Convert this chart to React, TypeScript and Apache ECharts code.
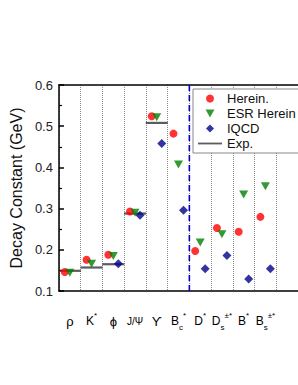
import React, { useEffect, useRef } from "react";
import * as echarts from "echarts";

const categories = ["ρ", "K*", "ϕ", "J/Ψ", "ϒ", "Bc*", "D*", "Ds±*", "B*", "Bs±*", ""];
const categoryRich = [
  "{g|ρ}",
  "{m|K}{sup|*}",
  "{g|ϕ}",
  "{s|J/Ψ}",
  "{g|ϒ}",
  "{m|B}{sub|c}{sup|*}",
  "{m|D}{sup|*}",
  "{m|D}{sub|s}{sup|±*}",
  "{m|B}{sup|*}",
  "{m|B}{sub|s}{sup|±*}",
  "",
];
const herein = [0.146, 0.176, 0.188, 0.293, 0.524, 0.482, 0.197, 0.253, 0.244, 0.28];
const esrHerein = [0.144, 0.166, 0.185, 0.29, 0.522, 0.407, 0.218, 0.238, 0.334, 0.354];
const iqcd = [null, null, 0.166, 0.284, 0.458, 0.296, 0.154, 0.186, 0.129, 0.154];
const expValues = [0.149, 0.157, 0.165, 0.288, 0.508, null, null, null, null, null];
const separatorAt = 6;
const yTicks = { min: 0.1, max: 0.6, interval: 0.1 };

const FONT = "Liberation Sans, Arial, sans-serif";

export default function App() {
  const ref = useRef<HTMLDivElement>(null);
  useEffect(() => {
    if (!ref.current) return;
    const chart = echarts.init(ref.current, null, { renderer: "svg" });
    const pair = (arr: (number | null)[]) =>
      arr.map((v, i) => (v == null ? null : [i, v])).filter((d) => d != null);
    const gridW = 23.4 * categories.length;
    chart.setOption({
      animation: false,
      backgroundColor: "#fff",
      textStyle: { fontFamily: FONT },
      grid: { left: 50, top: 85, width: gridW, height: 206 },
      legend: {
        orient: "vertical",
        left: 193,
        top: 89,
        padding: [3, 5, 3, 5],
        itemGap: 2,
        itemWidth: 24,
        itemHeight: 8,
        itemTextGap: 7,
        borderColor: "#888",
        borderWidth: 1,
        backgroundColor: "#fff",
        textStyle: { fontSize: 13, color: "#111", fontFamily: FONT },
        data: [
          { name: "Herein.", icon: "circle" },
          { name: "ESR Herein", icon: "path://M0,0L10,0L5,9Z" },
          { name: "IQCD", icon: "path://M5,0L10,5L5,10L0,5Z" },
          { name: "Exp.", icon: "path://M0,0H24V1.8H0Z" },
        ],
      },
      xAxis: [
        {
          type: "category",
          data: categories,
          boundaryGap: true,
          position: "bottom",
          axisLine: { lineStyle: { color: "#000", width: 1.5 } },
          axisTick: { inside: true, length: 5, interval: 0, lineStyle: { color: "#000", width: 1.5 } },
          splitLine: { show: true, interval: 0, lineStyle: { color: "#888", type: "dotted", width: 1 } },
          axisLabel: {
            interval: 0,
            margin: 20,
            formatter: (_v: string, i: number) => categoryRich[i] || "",
            rich: {
              m: { fontSize: 12, color: "#000", lineHeight: 20, fontFamily: FONT },
              g: { fontSize: 13, color: "#000", lineHeight: 20, fontFamily: FONT },
              s: { fontSize: 10, color: "#000", lineHeight: 20, fontFamily: FONT },
              sup: { fontSize: 8, color: "#000", lineHeight: 9, verticalAlign: "top", fontFamily: FONT },
              sub: { fontSize: 8, color: "#000", lineHeight: 9, verticalAlign: "bottom", fontFamily: FONT },
            },
          },
        },
        {
          type: "value",
          min: 0,
          max: categories.length,
          show: false,
          position: "bottom",
        },
        {
          type: "category",
          data: categories,
          boundaryGap: true,
          position: "top",
          axisLine: { lineStyle: { color: "#000", width: 1.5 } },
          axisTick: { inside: true, length: 5, interval: 0, lineStyle: { color: "#000", width: 1.5 } },
          axisLabel: { show: false },
          splitLine: { show: false },
        },
      ],
      yAxis: {
        type: "value",
        min: yTicks.min,
        max: yTicks.max,
        interval: yTicks.interval,
        name: "Decay Constant (GeV)",
        nameLocation: "middle",
        nameRotate: 90,
        nameGap: 31,
        nameTextStyle: { fontSize: 16, color: "#111", fontFamily: FONT },
        axisLine: { show: true, lineStyle: { color: "#000", width: 1.5 } },
        axisTick: { inside: true, length: 5, lineStyle: { color: "#000", width: 1.5 } },
        minorTick: { show: true, splitNumber: 2, length: 3, lineStyle: { color: "#000", width: 1.2 } },
        splitLine: { show: false },
        axisLabel: {
          fontSize: 13,
          color: "#222",
          margin: 6,
          formatter: (v: number) => v.toFixed(1),
        },
      },
      series: [
        {
          name: "sep",
          type: "line",
          xAxisIndex: 1,
          data: [
            [separatorAt, yTicks.min],
            [separatorAt, yTicks.max],
          ],
          symbol: "none",
          silent: true,
          lineStyle: { color: "#0000cc", width: 1.6, type: [6, 4] },
          z: 1,
        },
        {
          name: "Exp.",
          type: "scatter",
          data: pair(expValues),
          symbol: "rect",
          symbolSize: [22, 2.2],
          itemStyle: { color: "#333" },
          z: 2,
        },
        {
          name: "Herein.",
          type: "scatter",
          data: pair(herein),
          symbol: "circle",
          symbolSize: 8,
          symbolOffset: [-5, 0],
          itemStyle: { color: "#ff0000" },
          z: 3,
        },
        {
          name: "ESR Herein",
          type: "scatter",
          data: pair(esrHerein),
          symbol: "triangle",
          symbolRotate: 180,
          symbolSize: [9, 8],
          itemStyle: { color: "#008000" },
          z: 4,
        },
        {
          name: "IQCD",
          type: "scatter",
          data: pair(iqcd),
          symbol: "diamond",
          symbolSize: 9,
          symbolOffset: [5, 0],
          itemStyle: { color: "#00008b" },
          z: 5,
        },
      ],
    });
    return () => chart.dispose();
  }, []);
  return (
    <div
      ref={ref}
      style={{ position: "fixed", left: 0, top: 0, width: 298, height: 385 }}
    />
  );
}
